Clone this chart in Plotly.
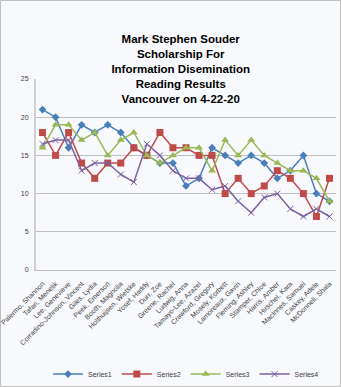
import plotly.graph_objects as go

names = ["Palermo, Shannon", "Tafari, Menelik", "Lee, Genevieve", "Corradino-Johnson, Vincent",
         "Giles, Lydia", "Peek, Emerson", "Booth, Magnolia", "Holthuijsen, Wietske", "Yosef, Haddy",
         "Durr, Zoe", "Greene, Rachel", "Ludwig, Anna", "Tamayo-Lee, Azazel", "Crawford, Gregory",
         "Mosely, Korbett", "Lamoreaux, Gavin", "Fleming, Ashley", "Stamper, Chloe", "Harris, Amber",
         "Hirschel, Kara", "MacInnes, Samuel", "Caskey, Adele", "McDonnell, Shala"]

series1 = [21, 20, 16, 19, 18, 19, 18, 16, 15, 14, 14, 11, 12, 16, 15, 14, 15, 14, 12, 13, 15, 10, 9]
series2 = [18, 15, 18, 14, 12, 14, 14, 16, 15, 18, 16, 16, 15, 15, 10, 12, 10, 11, 13, 12, 10, 7, 12]
series3 = [16, 19, 19, 17, 18, 15, 17, 18, 15, 14, 15, 16, 16, 13, 17, 15, 17, 15, 14, 13, 13, 12, 9]
series4 = [16.5, 17, 17, 13, 14, 14, 12.5, 11.5, 16.5, 15, 13, 12, 12, 10.5, 11, 9, 7.5, 9.5, 10, 8, 7, 8, 7]

title_lines = ["Mark Stephen Souder", "Scholarship For", "Information Disemination",
               "Reading Results", "Vancouver on 4-22-20"]

styles = [
    ("Series1", series1, "#4A7EBB", dict(symbol="diamond", size=6)),
    ("Series2", series2, "#BE4B48", dict(symbol="square", size=7)),
    ("Series3", series3, "#98B954", dict(symbol="triangle-up", size=7)),
    ("Series4", series4, "#7D60A0", dict(symbol="x-thin", size=6, line=dict(width=1, color="#7D60A0"))),
]

bg = "#F8F9FC"

fig = go.Figure()
for name, vals, color, marker in styles:
    m = dict(color=color, **marker)
    fig.add_trace(go.Scatter(x=names, y=vals, name=name, mode="lines+markers",
                             line=dict(color=color, width=1.5), marker=m))

fig.update_layout(
    width=341, height=387,
    margin=dict(l=36, r=5, t=79, b=117, autoexpand=False),
    paper_bgcolor=bg, plot_bgcolor=bg,
    font=dict(family="Liberation Sans", size=8, color="#404040"),
    title=dict(text="<br>".join(title_lines), x=0.53, xanchor="center",
               y=1 - 43 / 387, yanchor="middle", yref="container",
               font=dict(family="Liberation Sans", size=11.5, color="#000000", weight="bold")),
    showlegend=True,
    legend=dict(orientation="h", x=0.5, xanchor="center", y=-0.545, yanchor="middle",
                font=dict(size=7, color="#404040"), bgcolor="rgba(0,0,0,0)",
                itemwidth=30, tracegroupgap=0),
    xaxis=dict(type="category", tickangle=-45, showgrid=False, showline=True,
               linecolor="#BFBFBF", linewidth=1, tickfont=dict(size=7, color="#404040"),
               ticks="outside", ticklen=6, tickcolor=bg, range=[-0.5, 22.5]),
    yaxis=dict(range=[0, 25], dtick=5, showgrid=True, gridcolor="#BFBFBF", gridwidth=1,
               showline=True, linecolor="#D0D0D0", linewidth=2, zeroline=False,
               tickfont=dict(size=7, color="#404040"), ticks="outside", ticklen=4, tickcolor=bg),
)

fig.add_shape(type="rect", xref="paper", yref="paper",
              x0=(0.5 - 36) / 300, x1=(340.5 - 36) / 300,
              y0=(270 - 386.5) / 191, y1=(270 - 0.5) / 191,
              line=dict(color="#BFBFBF", width=1), layer="below")

fig.write_html("out.html")
